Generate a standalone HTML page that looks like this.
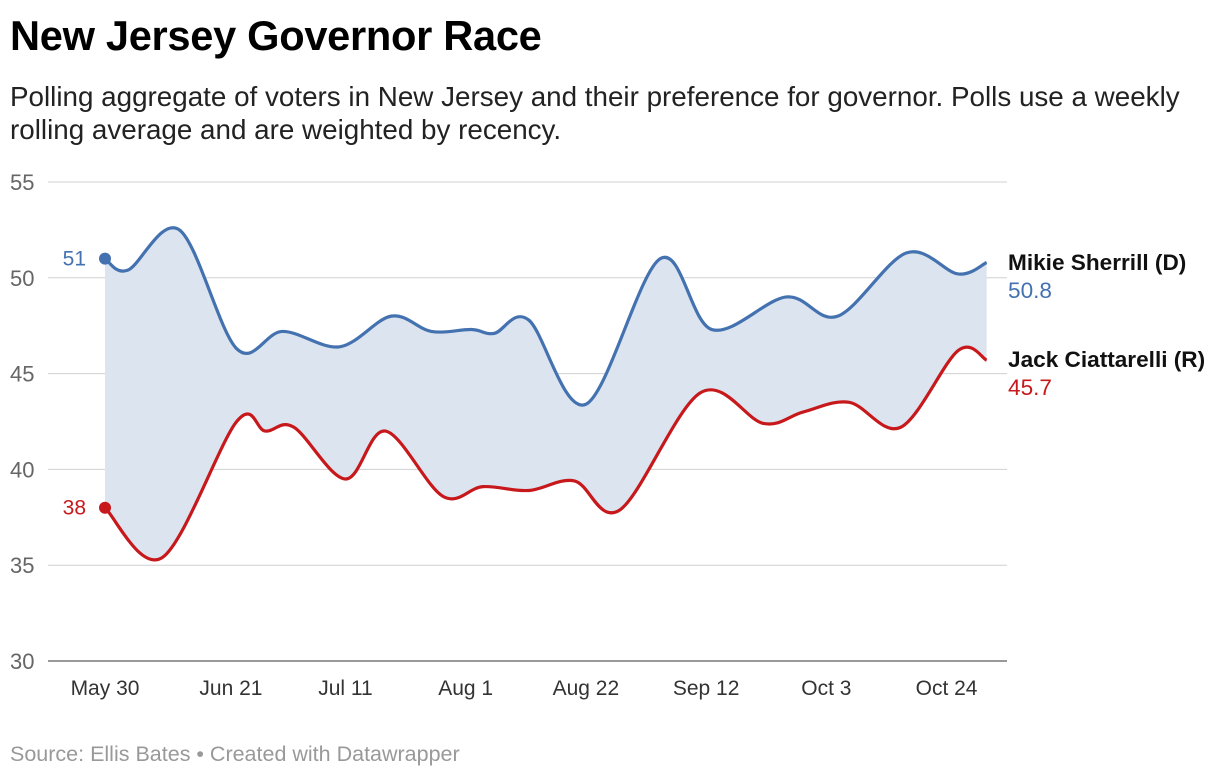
<!DOCTYPE html>
<html><head><meta charset="utf-8">
<style>
body{margin:0;background:#fff;font-family:"Liberation Sans",sans-serif;}
.wrap{position:relative;width:1220px;height:778px;overflow:hidden}
h1{position:absolute;left:10px;top:12px;margin:0;font-size:41.6px;font-weight:bold;color:#000;letter-spacing:-0.3px}
.sub{position:absolute;left:10px;top:80px;width:1200px;font-size:27.8px;line-height:33px;color:#222}
.src{position:absolute;left:10px;top:742px;font-size:21.5px;color:#999}
</style></head><body>
<div class="wrap">
<h1>New Jersey Governor Race</h1>
<div class="sub">Polling aggregate of voters in New Jersey and their preference for governor. Polls use a weekly rolling average and are weighted by recency.</div>
<svg id="chart" width="1220" height="778" style="position:absolute;left:0;top:0"></svg>
<div class="src">Source: Ellis Bates • Created with Datawrapper</div>
</div>
<script>
const yTicks=[30,35,40,45,50,55];
const xTickDays=[0,22,42,63,84,105,126,147];
const xTickLabels=["May 30","Jun 21","Jul 11","Aug 1","Aug 22","Sep 12","Oct 3","Oct 24"];
const demDays=[0,4,13,23,31,41,50,57,64,68,74,84,97,106,119,128,140,149,154];
const demVals=[51,50.4,52.5,46.3,47.2,46.4,48.0,47.2,47.3,47.1,47.8,43.4,51.0,47.3,49.0,48.0,51.3,50.2,50.8];
const repDays=[0,10,23,28,33,42,49,59,66,74,82,90,104,115,122,130,139,149,154];
const repVals=[38,35.4,42.5,42.0,42.2,39.5,42.0,38.6,39.1,38.9,39.4,37.9,44.0,42.4,43.0,43.5,42.2,46.2,45.7];

const NS="http://www.w3.org/2000/svg";
const svg=document.getElementById('chart');
const X=d=>105+d*5.725;
const Y=v=>661-(v-30)*19.16;
function el(t,a,txt){const e=document.createElementNS(NS,t);for(const k in a)e.setAttribute(k,a[k]);if(txt!=null)e.textContent=txt;svg.appendChild(e);return e;}
function curve(pts,move){
  let d=move?`M${pts[0][0]},${pts[0][1]}`:`L${pts[0][0]},${pts[0][1]}`;
  for(let i=0;i<pts.length-1;i++){
    const p0=pts[Math.max(0,i-1)],p1=pts[i],p2=pts[i+1],p3=pts[Math.min(pts.length-1,i+2)];
    const t=6;
    d+=` C${p1[0]+(p2[0]-p0[0])/t},${p1[1]+(p2[1]-p0[1])/t} ${p2[0]-(p3[0]-p1[0])/t},${p2[1]-(p3[1]-p1[1])/t} ${p2[0]},${p2[1]}`;
  }
  return d;
}
yTicks.forEach(v=>{
  const g=el('line',{x1:48,x2:1007,y1:Y(v),y2:Y(v),stroke:v===30?'#333':'#d0d0d0','stroke-width':1});
  
  const t=el('text',{x:10,y:Y(v)+8,'font-size':22,fill:'#666','font-family':'Liberation Sans'},v);
  
});
xTickDays.forEach((d,i)=>{
  const t=el('text',{x:X(d),y:695,'font-size':21,fill:'#333','text-anchor':'middle','font-family':'Liberation Sans'},xTickLabels[i]);
  
});
const dp=demDays.map((d,i)=>[X(d),Y(demVals[i])]);
const rp=repDays.map((d,i)=>[X(d),Y(repVals[i])]);
const area=el('path',{d:curve(dp,true)+' '+curve(rp.slice().reverse(),false)+' Z',fill:'#dce5ef'});

const dl=el('path',{d:curve(dp,true),fill:'none',stroke:'#4472b0','stroke-width':3.2});

const rl=el('path',{d:curve(rp,true),fill:'none',stroke:'#c7191c','stroke-width':3.2});

const c1=el('circle',{cx:dp[0][0],cy:dp[0][1],r:6,fill:'#4472b0'});

const c2=el('circle',{cx:rp[0][0],cy:rp[0][1],r:6,fill:'#c7191c'});

const l1=el('text',{x:86,y:dp[0][1]+7,'font-size':21,fill:'#4472b0','text-anchor':'end','font-family':'Liberation Sans'},demVals[0]);

const l2=el('text',{x:86,y:rp[0][1]+7,'font-size':21,fill:'#c7191c','text-anchor':'end','font-family':'Liberation Sans'},repVals[0]);

const n1=el('text',{x:1008,y:270,'font-size':22.6,'font-weight':'bold',fill:'#111','font-family':'Liberation Sans'},'Mikie Sherrill (D)');

const v1=el('text',{x:1008,y:298,'font-size':22.6,fill:'#4472b0','font-family':'Liberation Sans'},demVals[demVals.length-1]);

const n2=el('text',{x:1008,y:367,'font-size':22.6,'font-weight':'bold',fill:'#111','font-family':'Liberation Sans'},'Jack Ciattarelli (R)');

const v2=el('text',{x:1008,y:395,'font-size':22.6,fill:'#c7191c','font-family':'Liberation Sans'},repVals[repVals.length-1]);

</script>
</body></html>
